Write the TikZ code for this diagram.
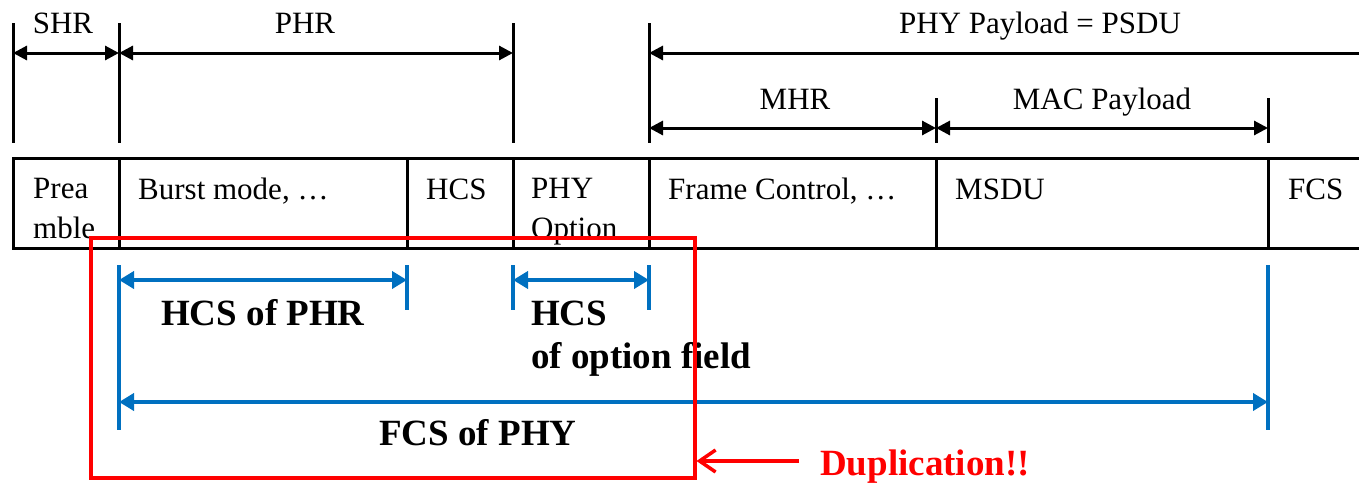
\documentclass[tikz,border=0pt]{standalone}
\usepackage{fontspec}
\setmainfont{Liberation Serif}
\usetikzlibrary{positioning, arrows.meta}
\definecolor{hcsblue}{RGB}{0,112,192}
\definecolor{dupred}{RGB}{255,0,0}
\tikzset{lbl/.style={inner sep=0pt, font=\fontsize{31}{40}\selectfont},
         blbl/.style={inner sep=0pt, font=\fontsize{37}{43}\selectfont\bfseries},
         blk/.style={line width=3pt},
         dimarrow/.style={line width=3pt, {Triangle[length=14pt,width=14pt]}-{Triangle[length=14pt,width=14pt]}},
         bluedim/.style={line width=4pt, hcsblue, {Triangle[length=15pt,width=17pt]}-{Triangle[length=15pt,width=17pt]}}}

\begin{document}
\begin{tikzpicture}[x=1pt, y=-1pt]

        \useasboundingbox (0,0) rectangle (1359,482);

        % Ticks and arrows above the frame
        \foreach \n/\x in {a/13, b/119, c/513, d/649} {
            \coordinate (t\n) at (\x,23);
            \coordinate (b\n) at (\x,143);
            \coordinate (m\n) at (\x,53);
            \draw[blk] (t\n) -- (b\n);
        }
        \coordinate (me) at (1364,53);
        \foreach \n/\x in {f/936, g/1268} {
            \coordinate (t\n) at (\x,98);
            \coordinate (b\n) at (\x,143);
            \draw[blk] (t\n) -- (b\n);
        }
        \coordinate (sd) at (649,128);
        \coordinate (sf) at (936,128);
        \coordinate (sg) at (1268,128);

        \draw[dimarrow] (ma) -- (mb);
        \draw[dimarrow] (mb) -- (mc);
        \draw[line width=3pt, {Triangle[length=14pt,width=14pt]}-] (md) -- (me);
        \draw[dimarrow] (sd) -- (sf);
        \draw[dimarrow] (sf) -- (sg);

        \node[lbl, anchor=base] (shr) at (63,33) {SHR};
        \node[lbl, anchor=base] (phr) at (305,33) {PHR};
        \node[lbl, anchor=base] (psdu) at (1040,33) {PHY Payload = PSDU};
        \node[lbl, anchor=base] (mhr) at (795,109) {MHR};
        \node[lbl, anchor=base] (macpl) at (1102,109) {MAC Payload};

        % The frame fields
        \draw[blk] (1364,158) -- (13,158) -- (13,248) -- (1364,248);
        \foreach \x in {119, 407, 513, 649, 936, 1268}
            \draw[blk] (\x,158) -- (\x,248);

        \node[lbl, anchor=base west, align=left] (pream) at (33,238) {Prea\\mble};
        \node[lbl, anchor=base west] (burst) at (138,199) {Burst mode, \ldots};
        \node[lbl, anchor=base west] (hcs) at (426,199) {HCS};
        \node[lbl, anchor=base west, align=left] (phyopt) at (531,238) {PHY\\Option};
        \node[lbl, anchor=base west] (fctrl) at (668,199) {Frame Control, \ldots};
        \node[lbl, anchor=base west] (msdu) at (955,199) {MSDU};
        \node[lbl, anchor=base west] (fcs) at (1288,199) {FCS};

        % Check sequences below the frame
        \foreach \n/\x/\y in {p/119/430, q/407/310, r/513/310, s/649/310, u/1268/430} {
            \coordinate (ct\n) at (\x,265);
            \coordinate (cb\n) at (\x,\y);
            \coordinate (ch\n) at (\x,280);
            \coordinate (cl\n) at (\x,402);
            \draw[hcsblue, line width=4pt] (ct\n) -- (cb\n);
        }
        \draw[bluedim] (chp) -- (chq);
        \draw[bluedim] (chr) -- (chs);
        \draw[bluedim] (clp) -- (clu);

        \node[blbl, anchor=base west] (hcsphr) at (161,325) {HCS of PHR};
        \node[blbl, anchor=base west, align=left] (hcsopt) at (531,368) {HCS\\of option field};
        \node[blbl, anchor=base] (fcsphy) at (478,445) {FCS of PHY};

        % Duplication mark
        \node[draw=dupred, line width=3.5pt, inner sep=0pt, minimum width=604pt,
              minimum height=240pt, anchor=north west] (dup) at (89,236) {};
        \node[blbl, text=dupred, anchor=base west] (duptxt) at (820,475) {Duplication!!};
        \coordinate (dupfrom) at (799,461);
        \draw[dupred, line width=3.5pt, -{Straight Barb[length=16pt,width=22pt]}] (dupfrom) -- (dup.east |- dupfrom);

\end{tikzpicture}
\end{document}
